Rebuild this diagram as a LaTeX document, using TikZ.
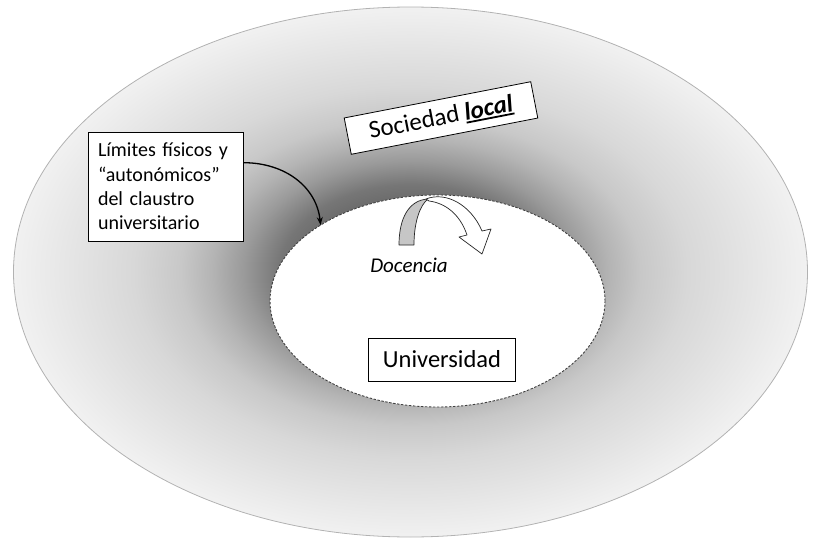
\documentclass[tikz,border=0pt]{standalone}
\usepackage{fontspec}
\setmainfont{Carlito}
\usetikzlibrary{shapes.geometric,arrows.meta}
\definecolor{s0}{HTML}{383838}
\definecolor{s1}{HTML}{767676}
\definecolor{s2}{HTML}{9A9A9A}
\definecolor{s3}{HTML}{B4B4B4}
\definecolor{s4}{HTML}{C8C8C8}
\definecolor{s5}{HTML}{D8D8D8}
\definecolor{s6}{HTML}{F1F1F1}
\definecolor{bandgrey}{HTML}{C6C6C6}
\pgfdeclareradialshading{socshade}{\pgfpoint{0bp}{0bp}}{color(0bp)=(s0); color(8.25bp)=(s1); color(10.5bp)=(s2); color(12.5bp)=(s3); color(14.5bp)=(s4); color(17.5bp)=(s5); color(25bp)=(s6); color(50bp)=(s6)}
\newcommand{\thickul}[1]{\setbox0\hbox{#1}\rlap{\rule[-3.2pt]{\wd0}{1.8pt}}\box0}
\tikzset{
  labelbox/.style={draw=black, line width=0.8pt, fill=white, inner sep=0pt},
  innerell/.style={ellipse, draw=black!75, dash pattern=on 2.5pt off 1.5pt, line width=0.9pt, fill=white, minimum width=335pt, minimum height=212pt, inner sep=0pt, outer sep=0pt},
  bandline/.style={draw=black!85, line width=0.7pt, line join=round}
}
\begin{document}
\begin{tikzpicture}[x=1pt,y=-1pt]
\useasboundingbox (0,0) rectangle (815,541);
% outer region: local society
\shade[shading=socshade, draw=gray!60, line width=0.8pt] (410.5,272) ellipse [x radius=397, y radius=265];
% inner region: university
\node[innerell] (campus) at (437.5,301) {};
% labels
\node[labelbox, rotate=11, minimum width=190pt, minimum height=37pt, font=\fontsize{25}{30}\selectfont] (soc) at (441,118) {Sociedad \thickul{\textbf{\textit{local}}}};
\node[labelbox, minimum width=155pt, minimum height=109pt, text width=135pt, align=left, font=\fontsize{20}{24.4}\selectfont] (lim) at (165.5,186.5) {Límites físicos y\\“autonómicos”\\del claustro\\universitario};
\node[labelbox, minimum width=147pt, minimum height=43pt, font=\fontsize{24.5}{29}\selectfont] (uni) at (442,359.5) {Universidad};
\node[font=\fontsize{21}{25}\selectfont\itshape] (doc) at (409,265) {Docencia};
% connector
\draw[line width=1.3pt, -{Stealth[length=8pt,width=6pt]}] (lim.17) .. controls +(42,0) and +(-4,-38) .. (campus.147);
% curved block arrow (Docencia)
\filldraw[fill=bandgrey, bandline] (399,245) .. controls (399,218) and (409,200) .. (428,199) .. controls (420,205) and (414,222) .. (414,245) -- cycle;
\filldraw[fill=white, bandline] (426,199) .. controls (446,191) and (471,205) .. (482,231) -- (491,229) -- (482,254) -- (459,237) -- (467,235) .. controls (460,214) and (445,203) .. (429,201) -- cycle;
\end{tikzpicture}
\end{document}
